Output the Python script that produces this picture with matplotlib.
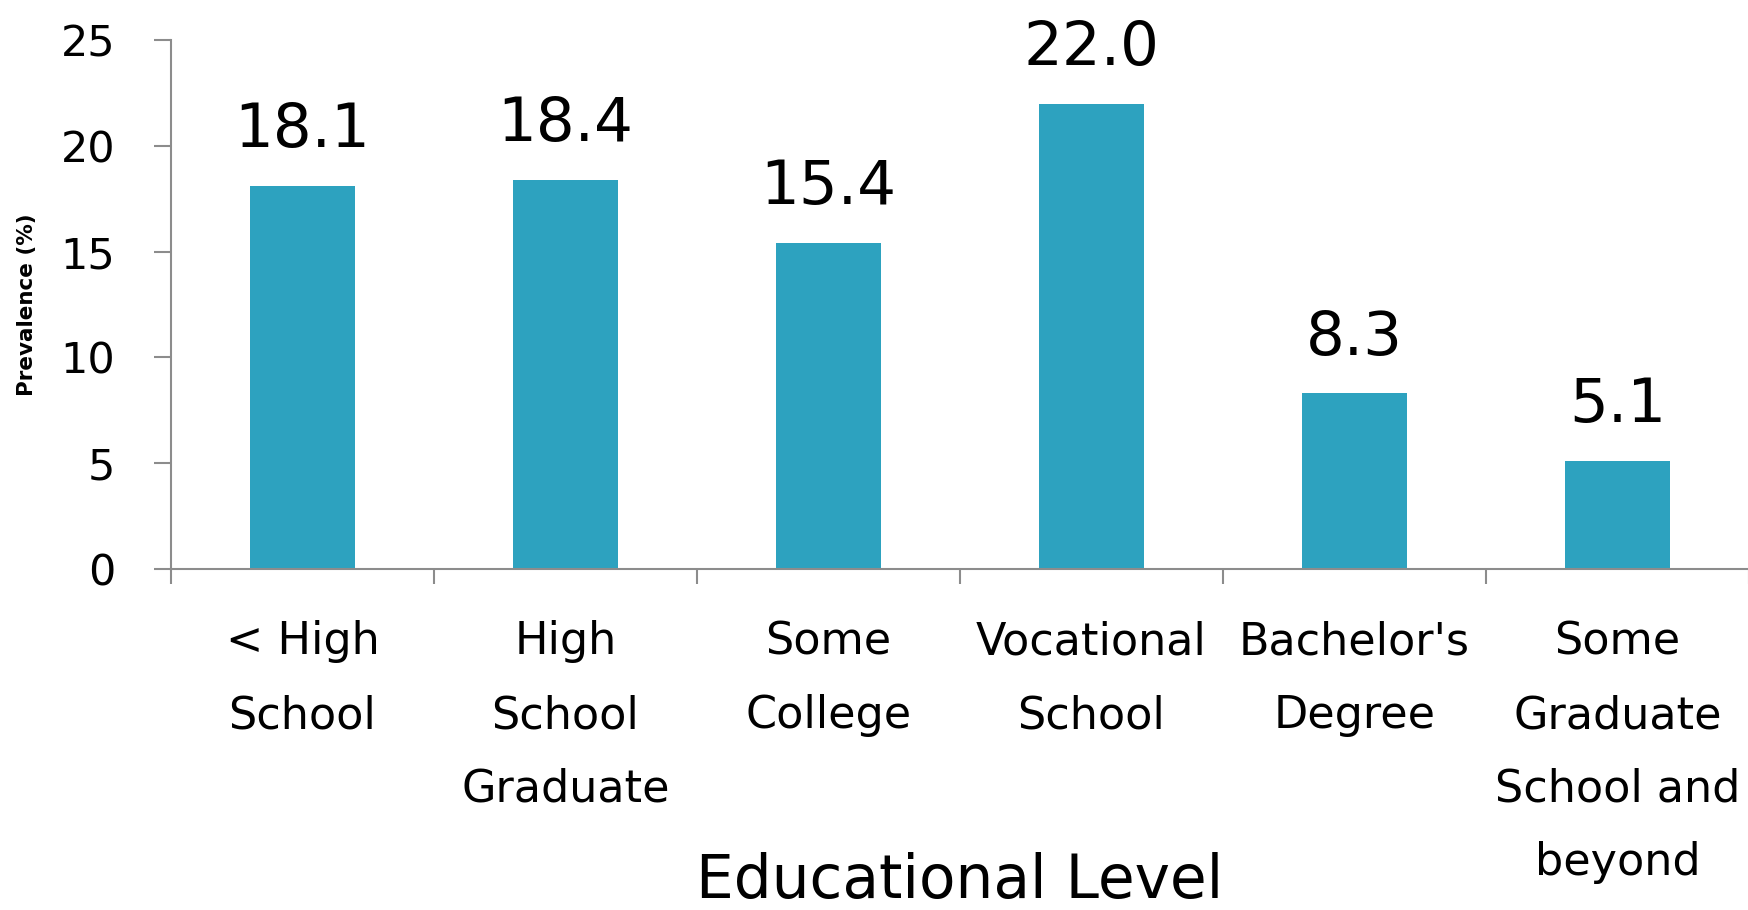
import numpy as np
import matplotlib
matplotlib.use('Agg')
import matplotlib.pyplot as plt

# data
categories = ['< High\nSchool', 'High\nSchool\nGraduate', 'Some\nCollege',
              'Vocational\nSchool', "Bachelor's\nDegree",
              'Some\nGraduate\nSchool and\nbeyond']
prevalence = [18.1, 18.4, 15.4, 22.0, 8.3, 5.1]
y_ticks = [0, 5, 10, 15, 20, 25]

bar_color = '#2DA2BF'
axis_color = '#8C8C8C'

fig = plt.figure(figsize=(17.49, 9.10), dpi=100)
ax = fig.add_axes([0.0977, 0.3747, 0.9023, 0.5813])

x = np.arange(len(categories))
bars = ax.bar(x, prevalence, width=0.4, color=bar_color, zorder=2)

#value labels above each bar
for xi, v in zip(x, prevalence):
    ax.annotate(f'{v:.1f}', xy=(xi, v), xytext=(0, 28), textcoords='offset points',
                ha='center', va='baseline', fontsize=44, color='black')

ax.set_xlim(-0.5, len(categories) - 0.5)
ax.set_ylim(0, 25)
ax.set_yticks(y_ticks)
ax.set_yticklabels([str(t) for t in y_ticks], fontsize=31)

#category labels in the middle, separator ticks between them
ax.set_xticks(x)
ax.set_xticklabels(categories, fontsize=32, linespacing=1.9, ha='center', va='top')
ax.set_xticks(np.arange(-0.5, len(categories), 1.0), minor=True)
ax.tick_params(axis='x', which='major', length=0, pad=37)
ax.tick_params(axis='x', which='minor', length=11, width=1.5, color=axis_color)
ax.tick_params(axis='y', length=12, width=1.5, color=axis_color, pad=28)

for side in ['top', 'right']:
    ax.spines[side].set_visible(False)
for side in ['left', 'bottom']:
    ax.spines[side].set_color(axis_color)
    ax.spines[side].set_linewidth(1.5)

ax.set_ylabel('Prevalence (%)', fontsize=15.5, fontweight='bold', va='center')
ax.yaxis.set_label_coords(-0.091, 0.5)
ax.set_xlabel('Educational Level', fontsize=43, va='center')
ax.xaxis.set_label_coords(0.5, -0.59)

fig.savefig('out.png', dpi=100)
